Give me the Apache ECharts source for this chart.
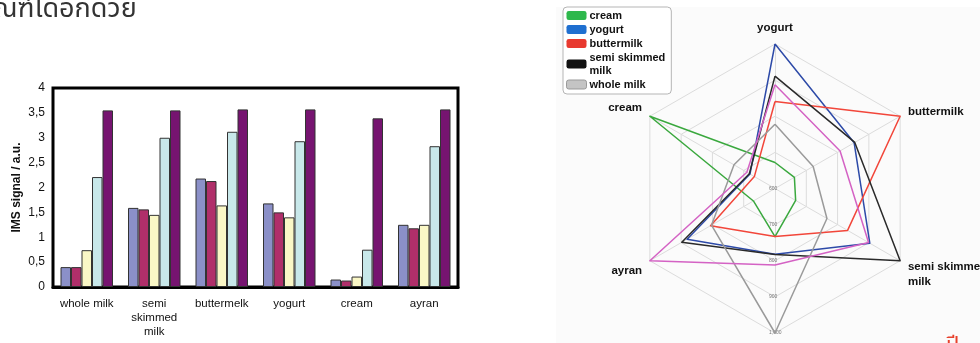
<!DOCTYPE html>
<html>
<head>
<meta charset="utf-8">
<script src="https://cdn.jsdelivr.net/npm/echarts@6/dist/echarts.min.js"></script>
<style>
html, body { margin: 0; padding: 0; background: #fff; }
#main { width: 980px; height: 343px; }
</style>
</head>
<body>
<div id="main"></div>
<script>
// ---- Bar chart: IMS signal per dairy product ----
const products = ['whole milk', 'semi\nskimmed\nmilk', 'buttermelk', 'yogurt', 'cream', 'ayran'];
const signalA = [0.40, 1.59, 2.18, 1.68, 0.15, 1.25];
const signalB = [0.40, 1.56, 2.13, 1.50, 0.13, 1.18];
const signalC = [0.74, 1.45, 1.64, 1.40, 0.21, 1.25];
const signalD = [2.21, 3.00, 3.12, 2.93, 0.75, 2.83];
const signalE = [3.55, 3.55, 3.57, 3.57, 3.39, 3.57];
const signalMin = 0, signalMax = 4, signalStep = 0.5;
const barColors = ['#8b90c8', '#b02f6a', '#faf7c6', '#c8e8ea', '#761470'];

// ---- Radar chart: axes listed clockwise from the top ----
const radarAxes = ['yogurt', 'buttermilk', 'semi skimmed milk', 'whole milk', 'ayran', 'cream'];
const radarMin = 600, radarMax = 1000;
const creamProfile      = [672, 662, 666, 733, 669, 1000];
const yogurtProfile     = [1000, 853, 903, 782, 881, 680];
const buttermilkProfile = [841, 1000, 832, 733, 806, 666];
const semiProfile       = [911, 855, 1000, 783, 898, 682];
const wholeProfile      = [778, 722, 766, 1000, 803, 731];
const ayranProfile      = [887, 808, 899, 812, 1000, 690];
const profileNames = ['cream', 'yogurt', 'buttermilk', 'semi skimmed milk', 'whole milk', 'ayran'];
const lineColors   = ['#3aa83e', '#2d4aa8', '#f2463a', '#2a2a2a', '#9a9a9a', '#d462c4'];
const legendColors = ['#2eb84c', '#1f6fd0', '#e8392f', '#111111', '#c4c4c4'];

// ECharts lays radar indicators counter-clockwise, so reverse all but the first
const ecOrder = [0, 5, 4, 3, 2, 1];
const reorder = arr => ecOrder.map(i => arr[i]);

const indicators = reorder(radarAxes).map(n => ({
  name: n,
  min: radarMin,
  max: radarMax,
  axisLabel: { show: n === 'whole milk' }
}));

// Axis names as rich text so each one can be nudged off its spoke
function axisNameText(name) {
  switch (name) {
    case 'semi skimmed milk': return '{gap| }\n{plain|semi skimmed}\n{plain|milk}';
    case 'whole milk': return '{far|whole milk}';
    case 'ayran': return '{dn|ayran}';
    case 'cream': return '{up|cream}';
    default: return '{plain|' + name + '}';
  }
}

const profiles = [creamProfile, yogurtProfile, buttermilkProfile, semiProfile, wholeProfile, ayranProfile];
const radarData = profiles.map((p, i) => ({
  name: profileNames[i],
  value: reorder(p),
  symbol: 'none',
  lineStyle: { color: lineColors[i], width: 1.5 },
  itemStyle: { color: lineColors[i] }
}));

const barSeries = [signalA, signalB, signalC, signalD, signalE].map((vals, i) => ({
  type: 'bar',
  data: vals,
  barWidth: 10.5,
  barGap: '0%',
  itemStyle: { color: barColors[i], borderColor: '#333', borderWidth: 1 }
}));

const nameFont = { color: '#111', fontWeight: 'bold', fontSize: 11.5, lineHeight: 15 };

const chart = echarts.init(document.getElementById('main'));
chart.setOption({
  animation: false,
  backgroundColor: '#fff',
  textStyle: { fontFamily: 'Liberation Sans, Arial, sans-serif' },
  graphic: [
    { type: 'rect', z: -10, shape: { x: 556, y: 7, width: 424, height: 336 }, style: { fill: '#fbfbfb' } },
    { type: 'text', x: -7, y: -2, style: { text: 'ณฑ์ได้อีกด้วย', font: '27px "Noto Sans Thai", "Noto Sans", sans-serif', fill: '#333' } },
    { type: 'text', x: 946, y: 337, style: { text: 'ปี', font: '22px "Noto Sans Thai", "Noto Sans", sans-serif', fill: '#e8412c' } }
  ],
  grid: {
    left: 53, top: 88, right: 522, bottom: 56,
    show: true, borderColor: '#000', borderWidth: 3
  },
  xAxis: {
    type: 'category',
    data: products,
    axisLine: { show: true, lineStyle: { color: '#000', width: 3 } },
    axisTick: { show: false },
    axisLabel: { color: '#111', fontSize: 11.5, lineHeight: 14, margin: 10, interval: 0 }
  },
  yAxis: {
    type: 'value',
    min: signalMin, max: signalMax, interval: signalStep,
    name: 'IMS signal / a.u.',
    nameLocation: 'middle',
    nameGap: 30,
    nameTextStyle: { fontWeight: 'bold', fontSize: 12, color: '#111' },
    axisLine: { show: false },
    axisTick: { show: false },
    splitLine: { show: false },
    axisLabel: {
      color: '#111', fontSize: 12, margin: 8,
      formatter: v => String(v).replace('.', ',')
    }
  },
  legend: {
    orient: 'vertical',
    left: 563, top: 7,
    padding: [2, 6, 3, 3],
    backgroundColor: '#fff',
    borderColor: '#b5b5b5', borderWidth: 1, borderRadius: 4,
    itemWidth: 20, itemHeight: 9, itemGap: 1,
    icon: 'roundRect',
    textStyle: { fontWeight: 'bold', fontSize: 11, color: '#111', lineHeight: 13, padding: [0, 0, 0, -2] },
    formatter: n => n === 'semi skimmed milk' ? 'semi skimmed\nmilk' : n,
    data: profileNames.slice(0, 5).map((n, i) => ({
      name: n,
      itemStyle: {
        color: legendColors[i],
        borderColor: n === 'whole milk' ? '#999' : legendColors[i],
        borderWidth: n === 'whole milk' ? 1 : 0
      }
    }))
  },
  radar: {
    center: [775, 188.5],
    radius: 144.5,
    splitNumber: 4,
    nameGap: 9,
    axisName: Object.assign({}, nameFont, {
      formatter: axisNameText,
      rich: {
        plain: nameFont,
        gap: Object.assign({}, nameFont, { lineHeight: 19 }),
        up: Object.assign({}, nameFont, { padding: [0, 0, 8, 0] }),
        dn: Object.assign({}, nameFont, { padding: [12, 0, 0, 0] }),
        far: Object.assign({}, nameFont, { padding: [40, 0, 0, 0] })
      }
    }),
    axisLine: { lineStyle: { color: '#dcdcdc', width: 1 } },
    splitLine: { lineStyle: { color: '#dcdcdc', width: 1 } },
    splitArea: { show: false },
    axisLabel: { color: '#777', fontSize: 5, margin: -6 },
    indicator: indicators
  },
  series: barSeries.concat([{
    type: 'radar',
    data: radarData
  }])
});
</script>
</body>
</html>
